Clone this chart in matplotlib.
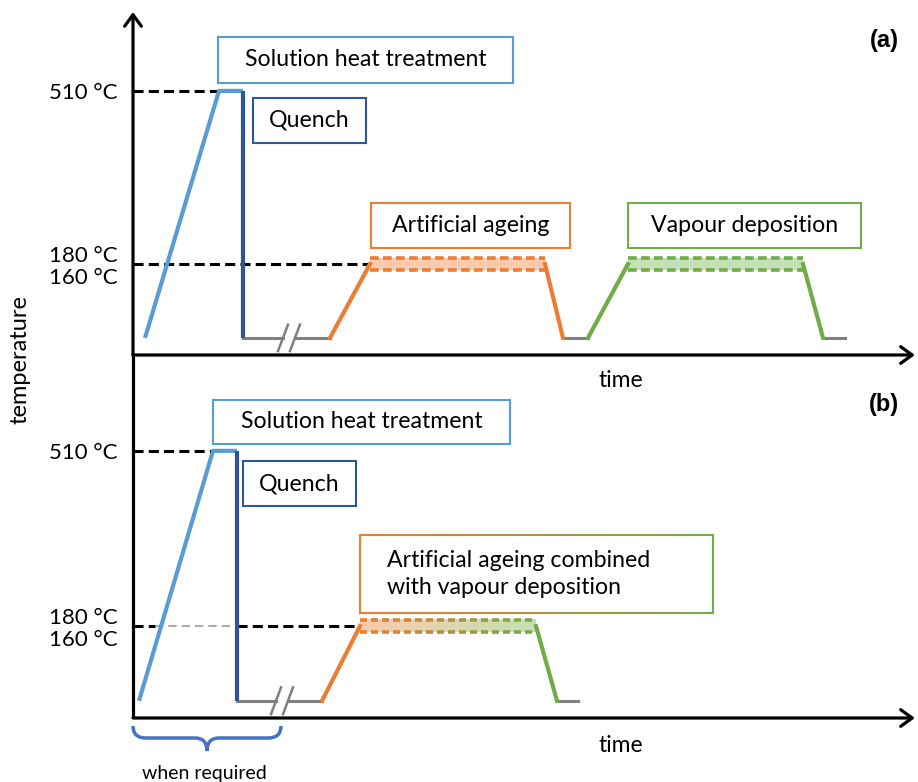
import numpy as np
import matplotlib.pyplot as plt
from matplotlib.patches import Rectangle, PathPatch
from matplotlib.path import Path
from matplotlib.collections import LineCollection
from matplotlib.colors import to_rgb

plt.rcParams['font.family'] = ['Lato', 'DejaVu Sans']

# temperatures in °C
T_room = 25
T_solution = 510
T_process = 170
T_band = (160, 180)
temp_ticks = [T_solution, T_process]
temp_labels = ['510 °C', '180 °C\n160 °C']

# panel (a): step times (arbitrary units)
a_heat_t = [1.2, 8.6, 11.0]          # ramp start, hold start, hold end (= quench)
a_break_t = 15.6
a_age_t = [19.7, 23.7, 41.2, 43.0]   # ramp start, hold start, hold end, back at room T
a_vap_t = [45.5, 49.5, 67.0, 69.0]
a_end_t = 71.2

# panel (b): step times
b_heat_t = [0.6, 8.0, 10.4]
b_break_t = 14.9
b_comb_t = [18.9, 22.7, 40.3, 42.4]
b_end_t = 44.5

C_HEAT = '#5B9BD5'
C_QUENCH = '#2F5597'
C_GRAY = '#808080'
C_ORANGE = '#ED7D31'
C_GREEN = '#70AD47'
F_ORANGE = '#F8CBAD'
F_GREEN = '#C5E0B4'

W, H = 918, 782
fig = plt.figure(figsize=(W / 100, H / 100), dpi=100)


def px_axes(x0, y_top, y_bot):
    return fig.add_axes([x0 / W, (H - y_bot) / H, (W - x0) / W, (y_bot - y_top) / H])


ax_a = px_axes(133, 12, 355)
ax_b = px_axes(133, 355, 718)
ax_a.set_ylim(-8.7, 665)
ax_b.set_ylim(-8.4, 696)

for ax in (ax_a, ax_b):
    ax.set_xlim(0, 78.5)
    for s in ax.spines.values():
        s.set_visible(False)
    ax.set_xticks([])
    ax.set_yticks(temp_ticks, temp_labels)
    ax.tick_params(axis='y', length=0, pad=11, labelsize=16)
    for lab in ax.get_yticklabels():
        lab.set_linespacing(1.1)
    ax.patch.set_alpha(0)
    # x axis arrow
    ax.annotate('', xy=(0.996, 0), xytext=(0, 0), xycoords='axes fraction',
                arrowprops=dict(arrowstyle='->,head_length=0.55,head_width=0.4',
                                lw=2.3, color='black', mutation_scale=15,
                                shrinkA=0, shrinkB=0), annotation_clip=False)
    ax.text(0.622, -0.075, 'time', transform=ax.transAxes, ha='center',
            va='center', fontsize=16.5)

ax_a.annotate('', xy=(0, 1), xytext=(0, 0), xycoords='axes fraction',
              arrowprops=dict(arrowstyle='->,head_length=0.55,head_width=0.4',
                              lw=2.3, color='black', mutation_scale=15,
                              shrinkA=0, shrinkB=0), annotation_clip=False)
ax_b.plot([0, 0], [0, 1], transform=ax_b.transAxes, color='black', lw=2.3,
          clip_on=False, solid_capstyle='butt')

ref_dash = dict(color='black', lw=2.2, dashes=(3.3, 1.7))
band_dash = (2.4, 1.2)


def heat_and_quench(ax, t):
    ax.plot([t[0], t[1], t[2]], [T_room, T_solution, T_solution], color=C_HEAT,
            lw=3, solid_capstyle='butt', zorder=3)
    ax.plot([t[2], t[2]], [T_solution, T_room], color=C_QUENCH, lw=3,
            solid_capstyle='butt', zorder=3)
    ax.plot([0, t[1]], [T_solution, T_solution], **ref_dash, zorder=2)


def broken_gray(ax, t0, tb, t1):
    ax.plot([t0, tb - 0.6], [T_room, T_room], color=C_GRAY, lw=2.2, zorder=2)
    ax.plot([tb + 0.6, t1], [T_room, T_room], color=C_GRAY, lw=2.2, zorder=2)
    for c in (tb - 0.6, tb + 0.6):
        ax.plot([c - 0.5, c + 0.5], [T_room - 26, T_room + 26], color=C_GRAY,
                lw=1.8, zorder=2)


def hold_step(ax, t, c_up, c_down, fill):
    ax.plot([t[0], t[1]], [T_room, T_process], color=c_up, lw=3, zorder=3)
    ax.plot([t[2], t[3]], [T_process, T_room], color=c_down, lw=3, zorder=3)
    ax.fill_between([t[1], t[2]], T_band[0] - 2, T_band[1] + 2, color=fill, lw=0, zorder=1)
    for Tb in (T_band[0] - 2, T_band[1] + 2):
        ax.plot([t[1], t[2]], [Tb, Tb], color=c_up, lw=2.6, dashes=band_dash, zorder=2)


# ---- panel (a)
heat_and_quench(ax_a, a_heat_t)
ax_a.plot([0, a_age_t[1]], [T_process, T_process], **ref_dash, zorder=2)
broken_gray(ax_a, a_heat_t[2], a_break_t, a_age_t[0])
hold_step(ax_a, a_age_t, C_ORANGE, C_ORANGE, F_ORANGE)
ax_a.plot([a_age_t[3], a_vap_t[0]], [T_room, T_room], color=C_GRAY, lw=2.2)
hold_step(ax_a, a_vap_t, C_GREEN, C_GREEN, F_GREEN)
ax_a.plot([a_vap_t[3], a_end_t], [T_room, T_room], color=C_GRAY, lw=2.2)

# ---- panel (b)
heat_and_quench(ax_b, b_heat_t)
ax_b.plot([0, 2.2], [T_process, T_process], **ref_dash, zorder=2)
ax_b.plot([2.2, b_heat_t[2]], [T_process, T_process], color='#999999', lw=1.2,
          dashes=(5, 3), zorder=2)
ax_b.plot([b_heat_t[2], b_comb_t[1]], [T_process, T_process], **ref_dash, zorder=2)
broken_gray(ax_b, b_heat_t[2], b_break_t, b_comb_t[0])
ax_b.plot([b_comb_t[0], b_comb_t[1]], [T_room, T_process], color=C_ORANGE, lw=3, zorder=3)
ax_b.plot([b_comb_t[2], b_comb_t[3]], [T_process, T_room], color=C_GREEN, lw=3, zorder=3)
ax_b.plot([b_comb_t[3], b_end_t], [T_room, T_room], color=C_GRAY, lw=2.2)

# gradient band orange -> green
grad = np.linspace(0, 1, 200)[:, None]
fill_rgb = (1 - grad) * np.array(to_rgb(F_ORANGE)) + grad * np.array(to_rgb(F_GREEN))
ax_b.imshow(fill_rgb[None, :, :], extent=[b_comb_t[1], b_comb_t[2], T_band[0] - 2, T_band[1] + 2],
            aspect='auto', zorder=1, interpolation='bilinear')
dash_starts = np.arange(b_comb_t[1], b_comb_t[2] - 0.3, 1.1)
for Tb in (T_band[0] - 2, T_band[1] + 2):
    segs = [[(s, Tb), (min(s + 0.7, b_comb_t[2]), Tb)] for s in dash_starts]
    f = (dash_starts - b_comb_t[1]) / (b_comb_t[2] - b_comb_t[1])
    cols = [(1 - k) * np.array(to_rgb(C_ORANGE)) + k * np.array(to_rgb(C_GREEN)) for k in f]
    ax_b.add_collection(LineCollection(segs, colors=cols, lw=2.6, zorder=2))
ax_b.set_xlim(0, 78.5)
ax_b.set_ylim(-8.4, 696)

# ---- overlay for labels (pixel coordinates)
ov = fig.add_axes([0, 0, 1, 1])
ov.set_xlim(0, W)
ov.set_ylim(H, 0)
ov.axis('off')


def label_box(x0, y0, x1, y1, color, text, fs=16.7):
    ov.add_patch(Rectangle((x0, y0), x1 - x0, y1 - y0, fc='white', ec=color, lw=1.5, zorder=4))
    ov.text((x0 + x1) / 2, (y0 + y1) / 2, text, ha='center', va='center',
            fontsize=fs, zorder=5)


label_box(218, 37, 513, 83, C_HEAT, 'Solution heat treatment')
label_box(253, 98, 366, 143, C_QUENCH, 'Quench')
label_box(371, 203, 570, 248, C_ORANGE, 'Artificial ageing')
label_box(628, 203, 861, 248, C_GREEN, 'Vapour deposition')
label_box(213, 400, 510, 444, C_HEAT, 'Solution heat treatment')
label_box(243, 461, 356, 506, C_QUENCH, 'Quench')

# combined box with gradient outline
bx0, by0, bx1, by1 = 360, 535, 713, 613
ov.add_patch(Rectangle((bx0, by0), bx1 - bx0, by1 - by0, fc='white', ec='none', zorder=4))
xs = np.linspace(bx0, bx1, 120)
k = (xs[:-1] - bx0) / (bx1 - bx0)
ecol = [(1 - q) * np.array(to_rgb(C_ORANGE)) + q * np.array(to_rgb(C_GREEN)) for q in k]
for yy in (by0, by1):
    ov.add_collection(LineCollection([[(xs[i], yy), (xs[i + 1], yy)] for i in range(len(xs) - 1)],
                                     colors=ecol, lw=1.5, zorder=5))
ov.plot([bx0, bx0], [by0, by1], color=C_ORANGE, lw=1.5, zorder=5)
ov.plot([bx1, bx1], [by0, by1], color=C_GREEN, lw=1.5, zorder=5)
ov.text(387, 574, 'Artificial ageing combined\nwith vapour deposition', ha='left',
        va='center', fontsize=16.7, linespacing=1.35, zorder=6)

ov.text(884, 40, '(a)', fontsize=17, fontweight='bold', family='Liberation Sans',
        ha='center', va='center')
ov.text(884, 405, '(b)', fontsize=17, fontweight='bold', family='Liberation Sans',
        ha='center', va='center')
ov.text(20, 360, 'temperature', rotation=90, fontsize=17, ha='center', va='center')

# brace "when required"
verts = [(133, 726), (133, 738), (146, 738), (195, 738), (207, 738), (207, 751),
         (207, 738), (219, 738), (268, 738), (281, 738), (281, 726)]
codes = [Path.MOVETO, Path.CURVE3, Path.CURVE3, Path.LINETO, Path.CURVE3, Path.CURVE3,
         Path.CURVE3, Path.CURVE3, Path.LINETO, Path.CURVE3, Path.CURVE3]
ov.add_patch(PathPatch(Path(verts, codes), fc='none', ec='#4472C4', lw=2.5))
ov.text(204, 773, 'when required', ha='center', va='center', fontsize=14)

fig.savefig('out.png', dpi=100)
